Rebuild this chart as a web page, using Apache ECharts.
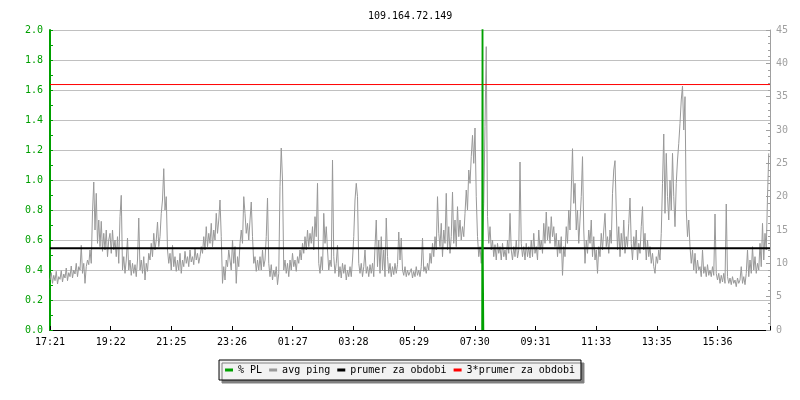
<!DOCTYPE html>
<html><head><meta charset="utf-8">
<script src="https://cdn.jsdelivr.net/npm/echarts@6/dist/echarts.min.js"></script>
<style>html,body{margin:0;padding:0;background:#fff}#c{width:800px;height:400px}</style>
</head><body><div id="c"></div>
<script>
const chartTitle = '109.164.72.149';
const xTickLabels = ['17:21','19:22','21:25','23:26','01:27','03:28','05:29','07:30','09:31','11:33','13:35','15:36'];
const leftTicks = [0.0, 0.2, 0.4, 0.6, 0.8, 1.0, 1.2, 1.4, 1.6, 1.8, 2.0];
const rightTicks = [0, 5, 10, 15, 20, 25, 30, 35, 40, 45];
const seriesNames = ['% PL', 'avg ping', 'prumer za obdobi', '3*prumer za obdobi'];
const sampleMinutes = 2.5;
const spanMinutes = 1440;
const tickEveryMinutes = 1335 / 11;
// avg ping [ms], one sample per 2.5 minutes, starting at 17:21 (one row per hour)
const pingSamples = [
 7.5, 8.6, 7.0, 8.2, 7.4, 8.8, 6.9, 8.0, 7.6, 8.9, 7.2, 8.4, 7.8, 9.3, 7.4, 8.6, 8.0, 9.6, 7.8, 9.0, 8.4, 10.0, 8.0, 9.5,
 9.0, 12.7, 8.5, 10.0, 7.0, 9.5, 10.5, 9.8, 12.0, 10.0, 17.7, 22.2, 15.0, 20.5, 13.0, 16.5, 12.5, 16.3, 11.8, 14.5, 12.0, 15.0, 11.0, 13.5,
 14.5, 11.5, 15.0, 12.0, 13.5, 11.0, 14.0, 10.0, 17.0, 20.2, 9.0, 11.0, 8.5, 10.5, 13.8, 9.0, 10.5, 8.2, 10.0, 8.5, 9.8, 8.0, 10.5, 16.8,
 9.0, 10.5, 8.5, 11.0, 7.5, 10.0, 8.8, 11.5, 10.5, 13.0, 11.0, 14.5, 12.0, 13.5, 16.2, 12.5, 14.0, 17.5, 19.5, 24.2, 18.0, 20.0, 12.0, 10.0,
 11.5, 9.0, 12.7, 9.5, 11.0, 8.8, 10.5, 9.0, 11.5, 8.5, 10.5, 9.5, 11.8, 10.0, 11.0, 9.5, 12.0, 10.2, 11.0, 9.8, 12.3, 10.5, 11.5, 10.0,
 11.0, 12.5, 11.5, 14.0, 12.0, 15.5, 12.5, 14.5, 13.0, 16.0, 12.5, 15.0, 13.5, 17.5, 14.5, 16.5, 19.5, 14.0, 7.0, 9.5, 7.5, 10.5, 9.5, 12.0,
 12.0, 9.0, 13.5, 10.0, 12.5, 7.0, 11.0, 9.5, 13.0, 15.0, 13.0, 20.0, 17.5, 14.5, 16.0, 13.5, 16.5, 19.2, 14.0, 10.0, 11.0, 8.8, 10.5, 9.0,
 11.0, 9.0, 12.0, 9.5, 10.5, 14.0, 19.8, 10.0, 8.0, 9.8, 7.5, 9.0, 8.0, 9.5, 6.8, 8.5, 21.5, 27.3, 22.5, 9.0, 10.5, 8.5, 10.0, 8.0,
 10.5, 9.0, 11.5, 9.5, 10.5, 8.8, 11.0, 10.0, 12.0, 10.5, 13.0, 11.5, 14.0, 12.0, 15.0, 12.5, 14.5, 13.0, 15.5, 12.0, 17.0, 14.0, 22.0, 10.0,
 8.5, 11.0, 9.0, 17.5, 13.0, 15.5, 12.0, 9.0, 10.5, 9.5, 25.5, 11.0, 8.5, 10.0, 12.7, 8.0, 9.5, 7.8, 10.0, 8.5, 9.8, 7.5, 9.0, 8.0,
 9.5, 8.0, 10.5, 14.0, 19.5, 22.0, 20.0, 10.0, 8.5, 10.0, 8.0, 9.5, 12.0, 8.5, 9.5, 8.0, 9.8, 8.5, 10.0, 8.0, 12.5, 16.5, 9.5, 13.5,
 8.5, 14.0, 9.0, 12.0, 8.0, 16.8, 11.0, 8.5, 10.0, 8.0, 9.5, 8.3, 10.0, 8.5, 9.8, 14.7, 10.5, 13.8, 9.0, 8.2, 9.5, 8.0, 9.0, 8.2,
 8.0, 9.2, 7.8, 8.8, 8.0, 9.5, 8.2, 9.0, 8.0, 9.5, 13.8, 8.8, 9.5, 8.5, 10.0, 9.0, 11.5, 10.0, 13.0, 11.0, 14.0, 12.0, 20.0, 14.5,
 12.5, 16.0, 11.0, 15.0, 13.0, 20.5, 12.0, 15.5, 11.5, 14.0, 20.7, 13.0, 16.5, 12.5, 18.5, 14.0, 16.5, 13.5, 15.5, 14.0, 17.5, 21.0, 18.0, 24.0,
 22.0, 26.0, 29.2, 25.0, 30.3, 20.0, 14.0, 11.0, 12.5, 10.0, 13.5, 19.0, 30.5, 42.5, 17.0, 13.0, 15.5, 12.0, 13.5, 11.0, 12.8, 10.5, 13.0, 11.5,
 12.5, 10.5, 13.0, 11.0, 12.0, 10.5, 13.5, 11.5, 17.5, 12.0, 10.5, 12.5, 11.0, 13.5, 10.8, 12.0, 25.2, 13.0, 11.0, 12.5, 10.5, 13.0, 11.0, 12.5,
 10.8, 13.5, 11.0, 14.5, 11.5, 12.5, 10.5, 15.0, 12.0, 13.5, 11.5, 16.0, 13.0, 17.7, 13.5, 15.5, 13.0, 17.0, 14.0, 15.5, 12.5, 14.5, 11.0, 13.5,
 11.5, 14.0, 8.2, 12.5, 11.0, 15.5, 13.0, 18.0, 15.0, 21.0, 27.2, 19.0, 22.0, 15.0, 18.0, 13.0, 16.5, 20.0, 26.0, 15.0, 10.0, 13.5, 11.5, 15.0,
 13.0, 16.5, 11.0, 14.0, 10.5, 12.0, 8.5, 12.5, 11.0, 14.5, 12.0, 15.0, 17.5, 12.5, 14.0, 11.5, 15.0, 13.0, 20.5, 24.0, 25.4, 18.0, 12.0, 15.5,
 11.0, 14.5, 12.0, 16.5, 11.5, 14.0, 12.5, 16.0, 19.8, 13.0, 10.5, 14.0, 12.0, 15.0, 10.5, 13.0, 11.5, 15.5, 18.5, 12.0, 14.5, 10.5, 13.5, 11.0,
 12.5, 10.0, 11.5, 9.5, 8.5, 11.0, 10.0, 12.0, 10.5, 14.5, 22.0, 29.4, 17.5, 26.5, 20.0, 16.5, 22.5, 18.0, 26.5, 20.0, 15.5, 22.0, 25.5, 28.0,
 31.0, 34.5, 36.6, 30.0, 35.0, 18.0, 14.0, 16.5, 12.5, 10.0, 12.0, 9.0, 11.5, 8.5, 10.5, 9.0, 9.5, 8.0, 12.0, 8.5, 9.5, 8.0, 9.8, 8.2,
 9.0, 8.0, 9.5, 8.2, 17.4, 8.5, 7.5, 8.5, 7.0, 8.2, 7.2, 8.5, 7.0, 18.9, 8.0, 7.0, 7.8, 6.8, 8.0, 7.0, 7.5, 6.5, 7.8, 7.0,
 7.5, 9.5, 7.0, 8.0, 6.8, 8.5, 12.0, 8.0, 10.5, 8.5, 12.5, 9.0, 11.0, 8.5, 10.0, 9.0, 13.0, 9.5, 16.0, 10.5, 14.5, 12.0, 20.0, 26.5
];
// packet loss [%], only the non-zero episode (minutes after 17:21)
const plMinutes = [864, 865, 866, 867];
const plValues = [0, 3.0, 0.45, 0];
const meanPing = 12.27;
const tripleMeanPing = 36.82;

const FONT = 'DejaVu Sans Mono';
const GREEN = '#00a000', GRAY = '#999999', BLACK = '#000000', RED = '#ff0000';

const pingData = pingSamples.map((v, i) => [i * sampleMinutes, v]);
const plData = plMinutes.map((m, i) => [m, plValues[i]]);

const chart = echarts.init(document.getElementById('c'), null, {renderer: 'canvas'});
chart.setOption({
  animation: false,
  backgroundColor: '#ffffff',
  title: {
    text: chartTitle, left: 363, top: 6,
    textStyle: {fontFamily: FONT, fontSize: 10, fontWeight: 'normal', color: '#000'}
  },
  legend: {
    data: seriesNames, left: 'center', top: 360,
    icon: 'rect', itemWidth: 8, itemHeight: 3, itemGap: 7,
    padding: [5, 6, 5, 6],
    backgroundColor: '#f2f2f2', borderColor: '#000', borderWidth: 1,
    shadowColor: '#808080', shadowBlur: 0, shadowOffsetX: 3, shadowOffsetY: 3,
    textStyle: {fontFamily: FONT, fontSize: 10, color: '#000'},
    selectedMode: false
  },
  grid: {left: 50, right: 30, top: 30, bottom: 70},
  xAxis: {
    type: 'value', min: 0, max: spanMinutes, interval: tickEveryMinutes,
    axisLine: {show: true, lineStyle: {color: '#000', width: 1}},
    axisTick: {show: true, inside: true, length: 4, lineStyle: {color: '#000'}},
    axisLabel: {
      fontFamily: FONT, fontSize: 10, color: '#000', margin: 7,
      formatter: function (v) {
        const k = Math.round(v / tickEveryMinutes);
        if (Math.abs(v - k * tickEveryMinutes) < 1e-6 && k < xTickLabels.length) return xTickLabels[k];
        return '';
      }
    },
    splitLine: {show: false}
  },
  yAxis: [{
    type: 'value', position: 'left', min: leftTicks[0], max: leftTicks[leftTicks.length - 1], interval: 0.2,
    axisLine: {show: true, lineStyle: {color: GREEN, width: 2}},
    axisTick: {show: true, inside: true, length: 3, lineStyle: {color: GREEN}},
    minorTick: {show: true, splitNumber: 2, length: 3, lineStyle: {color: GREEN}},
    axisLabel: {fontFamily: FONT, fontSize: 10, color: GREEN, margin: 7, formatter: v => v.toFixed(1)},
    splitLine: {show: true, lineStyle: {color: '#c0c0c0', width: 1}}
  }, {
    type: 'value', position: 'right', min: rightTicks[0], max: rightTicks[rightTicks.length - 1], interval: 5,
    axisLine: {show: true, lineStyle: {color: '#a0a0a0', width: 1}},
    axisTick: {show: true, inside: true, length: 4, lineStyle: {color: '#a0a0a0'}},
    minorTick: {show: true, splitNumber: 5, length: 2, lineStyle: {color: '#a0a0a0'}},
    axisLabel: {fontFamily: FONT, fontSize: 10, color: '#a0a0a0', margin: 6},
    splitLine: {show: false}
  }],
  series: [{
    name: seriesNames[1], type: 'line', yAxisIndex: 1, data: pingData,
    symbol: 'none', lineStyle: {color: GRAY, width: 1}, itemStyle: {color: GRAY}, z: 2
  }, {
    name: seriesNames[2], type: 'line', yAxisIndex: 1, data: [[0, meanPing], [spanMinutes, meanPing]],
    symbol: 'none', lineStyle: {color: BLACK, width: 2}, itemStyle: {color: BLACK}, z: 3
  }, {
    name: seriesNames[3], type: 'line', yAxisIndex: 1, data: [[0, tripleMeanPing], [spanMinutes, tripleMeanPing]],
    symbol: 'none', lineStyle: {color: RED, width: 1}, itemStyle: {color: RED}, z: 3
  }, {
    name: seriesNames[0], type: 'line', yAxisIndex: 0, data: plData,
    symbol: 'none', lineStyle: {color: GREEN, width: 1.5}, itemStyle: {color: GREEN}, z: 4
  }]
});
</script>
</body></html>
